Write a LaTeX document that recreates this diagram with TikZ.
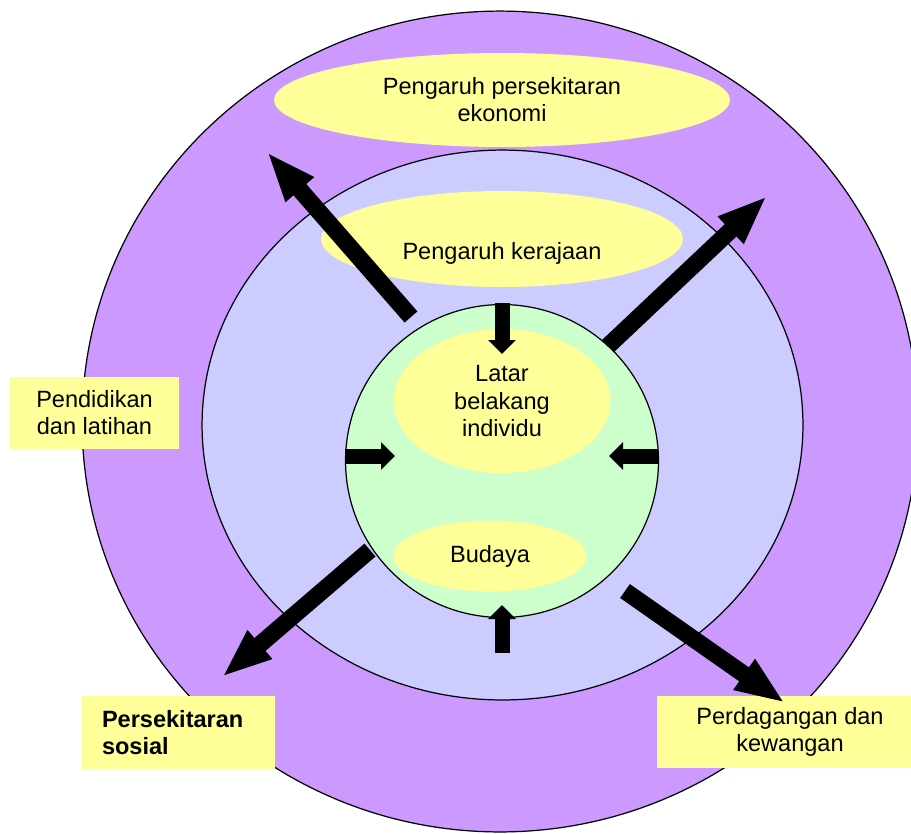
\documentclass[tikz,border=0pt]{standalone}
\usepackage{fontspec}
\setmainfont{Liberation Sans}
\usetikzlibrary{shapes.geometric,arrows.meta}
\definecolor{ungu}{HTML}{CC99FF}
\definecolor{lembayung}{HTML}{CCCCFF}
\definecolor{hijau}{HTML}{CCFFCC}
\definecolor{kuning}{HTML}{FFFF99}
\begin{document}
\begin{tikzpicture}[x=0.02cm,y=-0.02cm,font=\fontsize{13.4}{15.4}\selectfont]
	\tikzstyle{ring}=[ellipse,draw=black,line width=0.7pt,inner sep=0pt]
	\tikzstyle{bubble}=[ellipse,fill=kuning,inner sep=0pt,align=center]
	\tikzstyle{labelbox}=[rectangle,fill=kuning,inner sep=0pt,align=center]
	\tikzstyle{bigarrow}=[draw,line width=0.34cm,-{Triangle[length=1cm,width=0.68cm]}]
	\tikzstyle{smallarrow}=[draw,line width=0.3cm,-{Triangle[length=0.28cm,width=0.54cm]}]
	\useasboundingbox (0,0) rectangle (911,833);
	\begin{scope}
		\node [ring,fill=ungu,minimum width=16.72cm,minimum height=16.42cm] (luar) at (500,421.5) {};
		\node [bubble,minimum width=9.12cm,minimum height=1.88cm] (ekonomi) at (502,100) {Pengaruh persekitaran\\ekonomi};
		\node [ring,fill=lembayung,minimum width=12.02cm,minimum height=11cm] (tengah) at (502.5,425) {};
		\node [bubble,minimum width=7.24cm,minimum height=1.92cm] (kerajaan) at (502,239) {};
		\node (kerajaan text) at (502,253) {Pengaruh kerajaan};
		\node [ring,circle,fill=hijau,minimum size=6.26cm] (dalam) at (502,461) {};
		\node [bubble,minimum width=4.34cm,minimum height=2.88cm] (individu) at (502,401) {Latar\\belakang\\individu};
		\node [bubble,minimum width=3.86cm,minimum height=1.42cm] (budaya) at (490,556) {Budaya};
		\node [labelbox,minimum width=3.38cm,minimum height=1.44cm] (pendidikan) at (94.5,413) {Pendidikan\\dan latihan};
		\node [labelbox,minimum height=1.46cm,text width=3.06cm,inner xsep=0.4cm,align=left] (sosial) at (178.5,732.5) {\textbf{Persekitaran}\\\textbf{sosial}};
		\node [labelbox,minimum width=5.32cm,minimum height=1.44cm] (dagang) at (790,732) {Perdagangan dan\\kewangan};
		\coordinate (nw tail) at (411,317);
		\coordinate (nw tip) at (267,152);
		\coordinate (ne tail) at (608,346);
		\coordinate (ne tip) at (767,196);
		\coordinate (sw tail) at (370,550);
		\coordinate (sw tip) at (222,677);
		\coordinate (se tail) at (625,591);
		\coordinate (se tip) at (785,703);
		\coordinate (t tail) at (502,303);
		\coordinate (t tip) at (502,354);
		\coordinate (l tail) at (345,456);
		\coordinate (l tip) at (395,456);
		\coordinate (r tail) at (658,456);
		\coordinate (r tip) at (609,456);
		\coordinate (b tail) at (502,653);
		\coordinate (b tip) at (502,605);
		\path[bigarrow] (nw tail) -- (nw tip);
		\path[bigarrow] (ne tail) -- (ne tip);
		\path[bigarrow] (sw tail) -- (sw tip);
		\path[bigarrow] (se tail) -- (se tip);
		\path[smallarrow] (t tail) -- (t tip);
		\path[smallarrow] (l tail) -- (l tip);
		\path[smallarrow] (r tail) -- (r tip);
		\path[smallarrow] (b tail) -- (b tip);
	\end{scope}
\end{tikzpicture}
\end{document}
